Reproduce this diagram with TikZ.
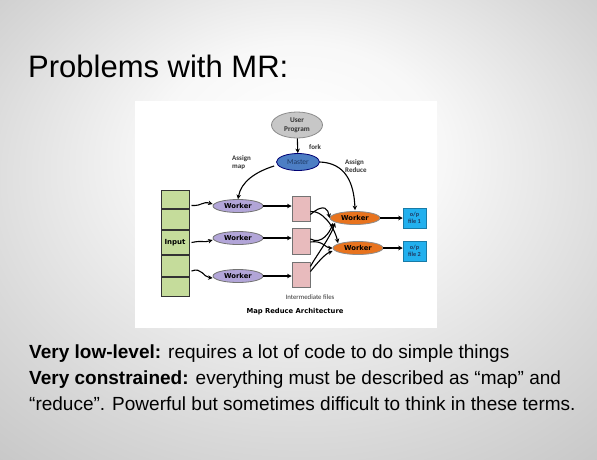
\documentclass[tikz,border=0pt]{standalone}
\usepackage{fontspec}
\setmainfont{Liberation Sans}
\newfontfamily\diagfont{DejaVu Sans}
\newfontfamily\labelfont{Carlito}
\usetikzlibrary{positioning,shapes.geometric,arrows.meta}

\definecolor{cellgreen}{HTML}{C5DC9B}
\definecolor{mappurple}{HTML}{B2A5D8}
\definecolor{midpink}{HTML}{E8BBBD}
\definecolor{redorange}{HTML}{E8731E}
\definecolor{outblue}{HTML}{22B0EE}
\definecolor{masterblue}{HTML}{4C7EC4}
\definecolor{navy}{HTML}{1F3A63}

\pgfdeclareradialshading{slidebg}{\pgfpoint{0bp}{11bp}}{color(0bp)=(white);
  color(12bp)=(white!97!black); color(28bp)=(white!85!black);
  color(44bp)=(white!74!black); color(50bp)=(white!72!black)}

\begin{document}
\begin{tikzpicture}[x=1pt,y=-1pt,
	arr/.style={-{Stealth[length=4.5pt,width=4.5pt]}, line width=1.1pt, black},
	inputcell/.style={draw=black!80, line width=1pt, fill=cellgreen, minimum width=28pt, inner sep=0pt},
	mapworker/.style={ellipse, draw=black!55, line width=0.8pt, fill=mappurple, minimum width=50pt, minimum height=13pt, inner sep=0pt, font=\diagfont\bfseries\fontsize{6.8}{7}\selectfont},
	redworker/.style={ellipse, draw=black!45, line width=0.8pt, fill=redorange, minimum width=50pt, minimum height=13pt, inner sep=0pt, font=\diagfont\bfseries\fontsize{6.8}{7}\selectfont},
	midfile/.style={draw=black!55, line width=0.8pt, fill=midpink, minimum width=18pt, minimum height=25pt, inner sep=0pt},
	outfile/.style={draw=outblue!70!black, line width=0.5pt, fill=outblue, minimum width=23pt, minimum height=20pt, inner sep=0pt, align=center, text=navy, font=\labelfont\bfseries\fontsize{6.2}{7}\selectfont},
	smalllabel/.style={font=\labelfont\bfseries\fontsize{7}{8}\selectfont, text=black!80, align=left, inner sep=0pt}]

	\useasboundingbox (0,0) rectangle (597,459);
	\shade[shading=slidebg] (0,0) rectangle (597,459);

	\node[anchor=base west, inner sep=0pt, font=\fontsize{31}{37}\selectfont] (title) at (28,77) {Problems with MR:};

	% diagram panel
	\fill[white] (135,101) rectangle (437,328);

	\node[ellipse, draw=black!45, line width=0.8pt, fill=black!22, minimum width=51pt, minimum height=26pt, inner sep=0pt, align=center, text=black!80, font=\labelfont\bfseries\fontsize{7.3}{8.5}\selectfont] (user) at (297,125) {User\\Program};
	\node[ellipse, draw=blue!45!black, line width=0.8pt, fill=masterblue, minimum width=43pt, minimum height=17pt, inner sep=0pt, text=navy, font=\labelfont\fontsize{7.5}{8}\selectfont] (master) at (298,162) {Master};
	\node[smalllabel, anchor=west] (fork) at (309,147) {fork};
	\node[smalllabel, anchor=west] (amap) at (232,163) {Assign\\map};
	\node[smalllabel, anchor=west] (ared) at (345,166) {Assign\\Reduce};

	\node[inputcell, minimum height=18pt, anchor=north] (in1) at (175,190) {};
	\node[inputcell, minimum height=20pt, below=0pt of in1] (in2) {};
	\node[inputcell, minimum height=24pt, below=0pt of in2, font=\diagfont\bfseries\fontsize{7}{8}\selectfont] (in3) {Input};
	\node[inputcell, minimum height=21pt, below=0pt of in3] (in4) {};
	\node[inputcell, minimum height=19pt, below=0pt of in4] (in5) {};

	\node[mapworker] (map1) at (238,206) {Worker};
	\node[mapworker] (map2) at (238,238) {Worker};
	\node[mapworker] (map3) at (238,276) {Worker};

	\node[midfile] (mid1) at (301,208.5) {};
	\node[midfile, minimum height=26pt] (mid2) at (301,241) {};
	\node[midfile] (mid3) at (301,274.5) {};

	\node[redworker] (red1) at (355,218) {Worker};
	\node[redworker] (red2) at (358,248) {Worker};

	\node[outfile] (out1) at (414.5,218) {o/p\\file 1};
	\node[outfile] (out2) at (414.5,251) {o/p\\file 2};

	\node[inner sep=0pt, text=black!80, font=\labelfont\fontsize{6.8}{8}\selectfont] (midlabel) at (310,297) {Intermediate files};
	\node[inner sep=0pt, font=\diagfont\bfseries\fontsize{6.8}{8}\selectfont] (caption) at (295,312) {Map Reduce Architecture};

	% control arrows
	\draw[arr] (user) -- (master);
	\draw[arr] ([xshift=-2pt,yshift=-4pt]master.west) .. controls (255,172) and (241,182) .. (map1.north);
	\draw[arr] (master.east) .. controls (345,163) and (354,182) .. ([yshift=1pt]red1.north);

	% input splits
	\draw[arr] ([xshift=2pt,yshift=-6pt]in1.east) .. controls (203,206) and (202,201) .. ([yshift=2pt]map1.west);
	\draw[arr] ([xshift=2pt]in3.east) .. controls (204,240) and (202,243) .. ([yshift=-2pt]map2.west);
	\draw[arr] ([xshift=2pt,yshift=-5pt]in4.east) .. controls (202,267) and (203,277) .. ([yshift=-2pt]map3.west);

	% map outputs
	\foreach \i in {1,2,3}
		\draw[arr] (map\i.east) -- (map\i.east -| mid\i.west);

	% shuffle
	\draw[arr] ([yshift=-6pt]mid1.east) .. controls (325,202) and (328,210) .. (red1.west);
	\draw[arr] ([yshift=-3pt]mid1.east) .. controls (322,210) and (334,226) .. ([xshift=-2pt]red2.north west);
	\draw[arr] ([yshift=-1pt]mid2.east) .. controls (322,240) and (326,248) .. (red2.west);
	\draw[arr] ([yshift=2pt]mid2.east) .. controls (322,245) and (330,232) .. ([xshift=-4pt]red1.south west);
	\draw[arr] ([yshift=8pt]mid3.east) .. controls (316,256) and (330,238) .. ([xshift=-2pt]red1.south west);
	\draw[arr] ([yshift=3pt]mid3.east) .. controls (318,262) and (325,254) .. ([yshift=-3pt]red2.west);

	\draw[arr] (red1.east) -- (out1.west);
	\draw[arr] (red2.east) -- (red2.east -| out2.west);

	% text
	\node[anchor=base west, inner sep=0pt, font=\fontsize{19}{22}\selectfont] (line1) at (29,358) {\textbf{Very low-level:} requires a lot of code to do simple things};
	\node[anchor=base west, inner sep=0pt, font=\fontsize{19}{22}\selectfont] (line2) at (29,384) {\textbf{Very constrained:} everything must be described as “map” and};
	\node[anchor=base west, inner sep=0pt, font=\fontsize{19}{22}\selectfont] (line3) at (29,410) {“reduce”. Powerful but sometimes difficult to think in these terms.};

\end{tikzpicture}
\end{document}
